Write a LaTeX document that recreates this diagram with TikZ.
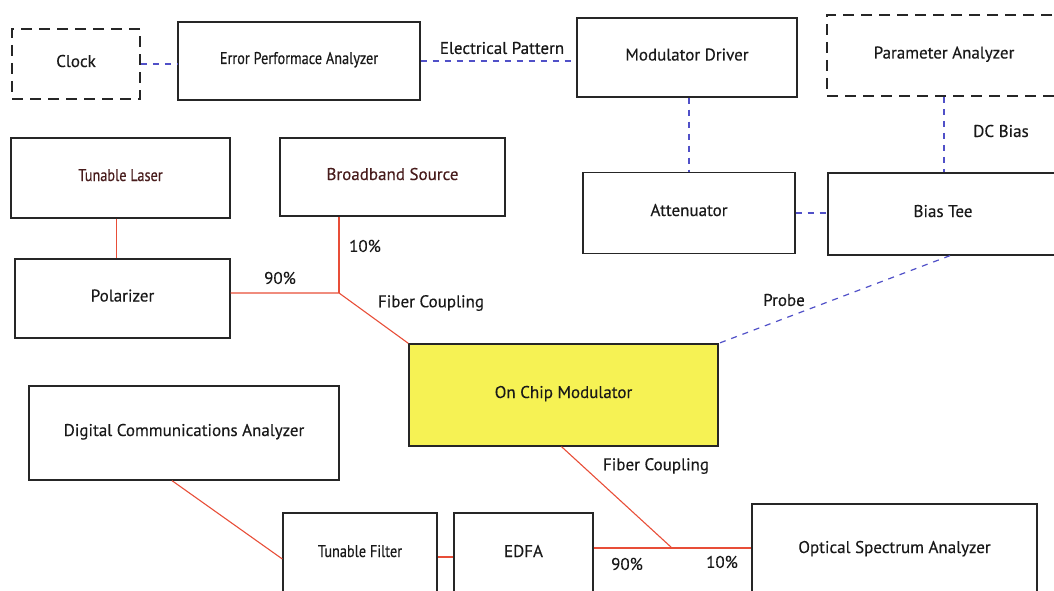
\documentclass[tikz,border=0pt]{standalone}
\usepackage{fontspec}
\setmainfont{PT Sans}[FakeBold=0.3]
\newfontfamily\narrowfont[FakeStretch=0.84,FakeBold=0.3]{PT Sans}
\definecolor{fiber}{RGB}{232,78,56}
\definecolor{wire}{RGB}{80,80,200}
\definecolor{chip}{RGB}{246,242,84}
\definecolor{maroon}{RGB}{72,28,28}
\definecolor{ink}{RGB}{25,25,25}
\begin{document}
\begin{tikzpicture}[x=1pt,y=-1pt,
  every node/.style={font=\fontsize{17}{19}\selectfont, text=ink},
  box/.style={draw=black!85, line width=1.3pt, rectangle, inner sep=0pt, text height=12pt, text depth=6pt},
  dbox/.style={box, line width=1.7pt, dash pattern=on 11pt off 7pt},
  fib/.style={draw=fiber, line width=1.1pt},
  elec/.style={draw=wire, line width=1.2pt, dash pattern=on 6pt off 6pt},
  lbl/.style={inner sep=0pt}]
\useasboundingbox (0,0) rectangle (1054,591);
\clip (0,0) rectangle (1054,591);
% boxes
\node[dbox, minimum width=128pt, minimum height=70pt] (clock) at (76,64) {Clock};
\node[box, minimum width=242pt, minimum height=78pt] (epa) at (299,61) {\narrowfont Error Performace Analyzer};
\node[box, minimum width=220pt, minimum height=79pt] (md) at (687,57.5) {Modulator Driver};
\node[dbox, minimum width=234pt, minimum height=81pt] (pa) at (944,55.5) {Parameter Analyzer};
\node[box, minimum width=212pt, minimum height=81pt] (att) at (689,213) {Attenuator};
\node[box, minimum width=230pt, minimum height=82pt] (bt) at (943,214) {Bias Tee};
\node[box, minimum width=219pt, minimum height=80pt, text=maroon] (tl) at (120.5,178) {\narrowfont Tunable Laser};
\node[box, minimum width=225pt, minimum height=78pt, text=maroon] (bb) at (392.5,177) {Broadband Source};
\node[box, minimum width=215pt, minimum height=79pt] (pol) at (122.5,298.5) {Polarizer};
\node[box, fill=chip, minimum width=309pt, minimum height=102pt] (ocm) at (563.5,395) {On Chip Modulator};
\node[box, minimum width=310pt, minimum height=94pt] (dca) at (184,433) {Digital Communications Analyzer};
\node[box, minimum width=154pt, minimum height=82pt] (tf) at (360,554) {\narrowfont Tunable Filter};
\node[box, minimum width=139pt, minimum height=82pt] (edfa) at (523.5,554) {EDFA};
\node[box, minimum width=285pt, minimum height=92pt] (osa) at (894.5,550) {Optical Spectrum Analyzer};
% junctions
\coordinate (j1) at (339,293);
\coordinate (j2) at (672,548);
% electrical links
\draw[elec] (clock.east) -- (clock.east -| epa.west);
\draw[elec] (epa.east) -- (epa.east -| md.west);
\draw[elec] (att.north |- md.south) -- (att.north);
\draw[elec] (pa.south) -- (pa.south |- bt.north);
\draw[elec] (att.east) -- (att.east -| bt.west);
\draw[elec] ([xshift=7pt]bt.south) -- (ocm.north east);
% fiber links
\draw[fib] ([xshift=-4pt]tl.south) -- ([xshift=-4pt]tl.south |- pol.north);
\draw[fib] (bb.south -| j1) -- (j1);
\draw[fib] (pol.east |- j1) -- (j1) -- (ocm.north west);
\draw[fib] ([xshift=-12pt]dca.south) -- ([yshift=-5pt]tf.west);
\draw[fib] ([yshift=-3pt]tf.east) -- ([yshift=-3pt]tf.east -| edfa.west);
\draw[fib] (edfa.east |- j2) -- (j2) -- (osa.west |- j2);
\draw[fib] ([xshift=-2pt]ocm.south) -- (j2);
% labels
\node[lbl] (lep) at (502,48) {Electrical Pattern};
\node[lbl] (ldc) at (1001,131) {DC Bias};
\node[lbl] (lpr) at (784,300) {Probe};
\node[lbl] (lfc1) at (431,303) {Fiber Coupling};
\node[lbl] (l10a) at (365,246) {10\%};
\node[lbl] (l90a) at (280,278) {90\%};
\node[lbl] (lfc2) at (656,466) {Fiber Coupling};
\node[lbl] (l90b) at (627,564) {90\%};
\node[lbl] (l10b) at (722,562) {10\%};
\end{tikzpicture}
\end{document}
